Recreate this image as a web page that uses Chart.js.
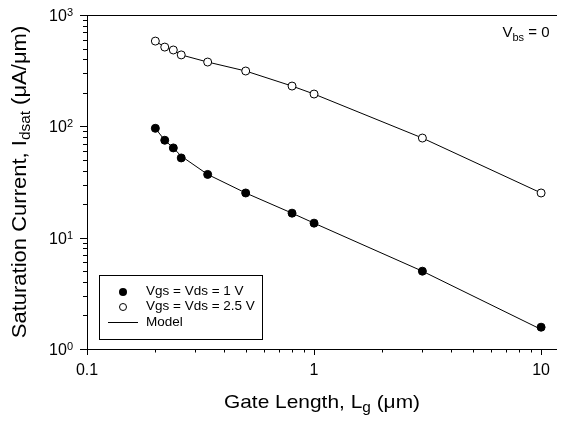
<!DOCTYPE html>
<html>
<head>
<meta charset="utf-8">
<script src="https://cdn.jsdelivr.net/npm/chart.js@4"></script>
<style>
  body { margin: 0; background: #fff; }
  canvas { display: block; }
</style>
</head>
<body>
<canvas id="chart" width="562" height="423"></canvas>
<script>
// ---- data ----
const gateLength = [0.2, 0.22, 0.24, 0.26, 0.34, 0.5, 0.8, 1, 3, 10];
const idsat1V   = [96, 75, 64, 52, 37, 25.2, 16.6, 13.5, 5.0, 1.57];
const idsat25V  = [583, 515, 485, 438, 378, 314, 230, 195, 78.5, 25.2];
const model1V   = [96, 75, 64, 54, 37, 25.2, 16.6, 13.5, 5.0, 1.5];
const model25V  = [583, 515, 485, 438, 378, 314, 230, 195, 78.5, 25.2];
const xTicks = [0.1, 1, 10];
const yTicks = [1, 10, 100, 1000];

const FONT = "'Liberation Sans', Arial, sans-serif";

function pts(xs, ys) {
  return xs.map((x, i) => ({ x: x, y: ys[i] }));
}

// axes, ticks, titles and legend drawn by hand (Sigmaplot look)
const framePlugin = {
  id: "frame",
  afterDraw(chart) {
    const ctx = chart.ctx;
    const a = chart.chartArea;
    const xs = chart.scales.x, ys = chart.scales.y;
    ctx.save();
    ctx.strokeStyle = "#000";
    ctx.fillStyle = "#000";
    ctx.lineWidth = 1;

    // axis lines
    ctx.beginPath();
    ctx.moveTo(a.left + 0.5, a.top);
    ctx.lineTo(a.left + 0.5, a.bottom);
    ctx.moveTo(a.left - 6, a.bottom + 0.5);
    ctx.lineTo(a.right, a.bottom + 0.5);
    ctx.moveTo(a.left, a.top + 0.5);
    ctx.lineTo(a.right, a.top + 0.5);
    ctx.stroke();

    // x ticks
    ctx.beginPath();
    xTicks.forEach(d => {
      for (let m = 1; m <= 9; m++) {
        const v = d * m;
        if (v > xs.max) break;
        const px = Math.round(xs.getPixelForValue(v)) + 0.5;
        ctx.moveTo(px, a.bottom);
        ctx.lineTo(px, a.bottom + (m === 1 ? 6 : 3.5));
      }
    });
    // y ticks
    yTicks.forEach(d => {
      for (let m = 1; m <= 9; m++) {
        const v = d * m;
        if (v > ys.max) break;
        const py = Math.round(ys.getPixelForValue(v)) + 0.5;
        ctx.moveTo(a.left, py);
        ctx.lineTo(a.left - (m === 1 ? 7 : 4), py);
      }
    });
    ctx.stroke();

    // x tick labels
    ctx.font = "16px " + FONT;
    ctx.textAlign = "center";
    ctx.textBaseline = "alphabetic";
    xTicks.forEach(v => {
      ctx.fillText(String(v), xs.getPixelForValue(v), a.bottom + 26);
    });

    // y tick labels 10^n
    yTicks.forEach(v => {
      const py = ys.getPixelForValue(v);
      const exp = String(Math.round(Math.log10(v)));
      ctx.textAlign = "right";
      ctx.font = "11px " + FONT;
      const ew = ctx.measureText(exp).width;
      ctx.fillText(exp, 73, py + 1);
      ctx.font = "16px " + FONT;
      ctx.fillText("10", 73 - ew, py + 6);
    });

    // x title
    ctx.save();
    ctx.translate((a.left + a.right) / 2, 408);
    ctx.scale(1.1, 1);
    drawRich(ctx, [["Gate Length, L", 19, 0], ["g", 14, 4], [" (\u03bcm)", 19, 0]], 0, 0);
    ctx.restore();

    // y title (rotated)
    ctx.save();
    ctx.translate(26, (a.top + a.bottom) / 2);
    ctx.rotate(-Math.PI / 2);
    ctx.scale(1.1, 1);
    drawRich(ctx, [["Saturation Current, I", 20, 0], ["dsat", 14, 4], [" (\u03bcA/\u03bcm)", 20, 0]], 0, 0);
    ctx.restore();

    // annotation
    drawRich(ctx, [["V", 15, 0], ["bs", 11, 4], [" = 0", 15, 0]], 526, 37);

    // legend box
    ctx.strokeRect(99.5, 275.5, 163, 64);
    ctx.font = "13.5px " + FONT;
    ctx.textAlign = "left";
    ctx.textBaseline = "middle";
    const ds = chart.data.datasets;
    ctx.beginPath();
    ctx.arc(123, 292, 4, 0, Math.PI * 2);
    ctx.fill();
    ctx.fillText(ds[0].label, 146, 291);
    ctx.beginPath();
    ctx.arc(123, 307, 3.5, 0, Math.PI * 2);
    ctx.stroke();
    ctx.fillText(ds[1].label, 146, 306);
    ctx.beginPath();
    ctx.moveTo(108, 322.5);
    ctx.lineTo(138, 322.5);
    ctx.stroke();
    ctx.fillText(ds[2].label, 146, 322);

    ctx.restore();
  }
};

// text with subscripts, centred on cx, baseline at by
function drawRich(ctx, parts, cx, by) {
  ctx.textAlign = "left";
  ctx.textBaseline = "alphabetic";
  let w = 0;
  parts.forEach(p => { ctx.font = p[1] + "px " + FONT; w += ctx.measureText(p[0]).width; });
  let x = cx - w / 2;
  parts.forEach(p => {
    ctx.font = p[1] + "px " + FONT;
    ctx.fillText(p[0], x, by + p[2]);
    x += ctx.measureText(p[0]).width;
  });
}

const chart = new Chart(document.getElementById("chart").getContext("2d"), {
  type: "scatter",
  data: {
    datasets: [
      {
        label: "Vgs = Vds = 1 V",
        data: pts(gateLength, idsat1V),
        showLine: false,
        pointRadius: 4,
        pointBorderWidth: 1,
        pointBackgroundColor: "#000",
        pointBorderColor: "#000",
        order: 1,
      },
      {
        label: "Vgs = Vds = 2.5 V",
        data: pts(gateLength, idsat25V),
        showLine: false,
        pointRadius: 4,
        pointBorderWidth: 1,
        pointBackgroundColor: "#fff",
        pointBorderColor: "#000",
        order: 1,
      },
      {
        label: "Model",
        data: pts(gateLength, model1V),
        showLine: true,
        borderColor: "#000",
        borderWidth: 1,
        pointRadius: 0,
        tension: 0,
        order: 2,
      },
      {
        label: "Model 2.5 V",
        data: pts(gateLength, model25V),
        showLine: true,
        borderColor: "#000",
        borderWidth: 1,
        pointRadius: 0,
        tension: 0,
        order: 2,
      },
    ],
  },
  options: {
    responsive: false,
    animation: false,
    devicePixelRatio: 1,
    layout: { padding: { left: 87, top: 15, right: 1, bottom: 74 } },
    scales: {
      x: { type: "logarithmic", min: 0.1, max: 11.75, display: false },
      y: { type: "logarithmic", min: 1, max: 1000, display: false },
    },
    plugins: {
      legend: { display: false },
      tooltip: { enabled: false },
    },
  },
  plugins: [framePlugin],
});
</script>
</body>
</html>
